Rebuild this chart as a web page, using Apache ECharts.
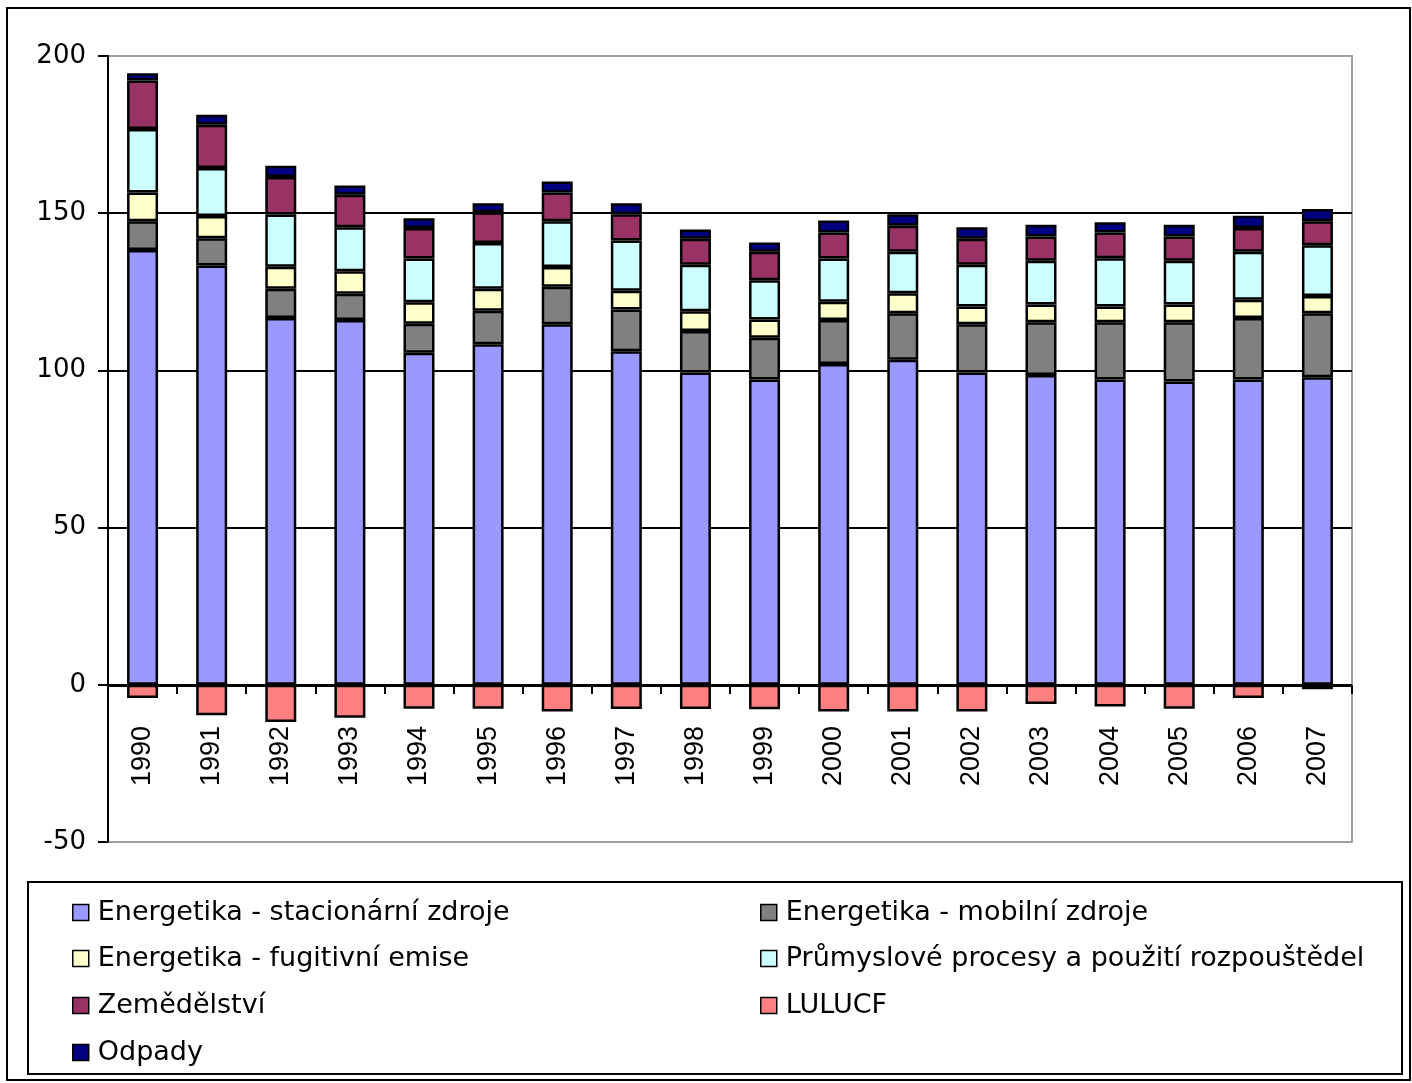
<!DOCTYPE html>
<html>
<head>
<meta charset="utf-8">
<script src="https://cdn.jsdelivr.net/npm/echarts@6/dist/echarts.min.js"></script>
<style>
html,body{margin:0;padding:0;background:#fff;}
#chart{width:1412px;height:1083px;}
</style>
</head>
<body>
<div id="chart"></div>
<script>
const years = ['1990','1991','1992','1993','1994','1995','1996','1997','1998','1999','2000','2001','2002','2003','2004','2005','2006','2007'];
const stacionarni = [138.3,133.4,116.7,116.0,105.6,108.3,114.7,106.1,99.3,97.1,102.0,103.4,99.3,98.5,97.1,96.5,97.1,97.8];
const mobilni = [9.1,8.6,9.3,8.4,9.2,10.7,11.9,13.3,13.2,13.3,14.0,14.8,15.4,16.8,18.2,18.8,19.6,20.4];
const fugitivni = [9.2,7.1,7.0,7.1,6.9,7.0,6.3,5.9,6.3,5.8,5.8,6.3,5.6,5.7,5.0,5.7,5.8,5.5];
const prumysl = [20.2,15.3,16.6,14.0,13.9,14.5,14.5,16.0,14.8,12.5,13.8,13.2,13.3,13.9,15.4,13.9,15.2,16.1];
const zemedelstvi = [15.4,13.7,11.9,10.4,9.7,9.8,9.2,8.4,8.3,9.0,8.3,8.3,8.3,7.7,8.2,7.7,7.6,7.6];
const lulucf = [-4.2,-9.7,-11.8,-10.5,-7.6,-7.6,-8.5,-7.7,-7.7,-7.8,-8.5,-8.5,-8.5,-6.1,-6.9,-7.6,-4.2,-1.4];
const odpady = [2.3,3.2,3.6,2.9,3.1,2.9,3.5,3.5,2.9,3.0,3.8,3.7,3.6,3.7,3.2,3.7,3.9,3.9];

const seriesNames = ['Energetika - stacionární zdroje','Energetika - mobilní zdroje','Energetika - fugitivní emise','Průmyslové procesy a použití rozpouštědel','Zemědělství','LULUCF','Odpady'];
const seriesData = [stacionarni, mobilni, fugitivni, prumysl, zemedelstvi, lulucf, odpady];
const colors = ['#9999FF','#808080','#FFFFCC','#CCFFFF','#993366','#FF8080','#000080'];

const legendPos = [
  {left:72, top:899},{left:760, top:899},
  {left:72, top:945},{left:760, top:945},
  {left:72, top:992},{left:760, top:992},
  {left:72, top:1039}
];

const chart = echarts.init(document.getElementById('chart'));
const option = {
  animation:false,
  backgroundColor:'#fff',
  textStyle:{fontFamily:'DejaVu Sans', color:'#000'},
  grid:{left:108, top:56, right:60, bottom:241, show:true, borderColor:'#a0a0a0', borderWidth:2, containLabel:false},
  legend: seriesNames.map((n,i)=>({
    data:[n], left:legendPos[i].left, top:legendPos[i].top,
    icon:'rect',
    itemWidth:16, itemHeight:16, padding:0, itemGap:0,
    selectedMode:false,
    itemStyle:{borderColor:'#000', borderWidth:1.5},
    textStyle:{fontFamily:'DejaVu Sans', fontSize:27, color:'#000', padding:[0,0,0,4]}
  })),
  xAxis:{
    type:'category', data:years,
    position:'bottom', offset:-156,
    axisLine:{onZero:false, lineStyle:{color:'#000', width:2}},
    axisTick:{show:true, length:8, lineStyle:{color:'#000', width:2}},
    axisLabel:{rotate:90, margin:40, fontFamily:'Liberation Sans', fontSize:27, color:'#000'},
    splitLine:{show:false}
  },
  yAxis:{
    type:'value', min:-50, max:200, interval:50,
    axisLine:{show:true, lineStyle:{color:'#000', width:2}},
    axisTick:{show:true, length:10, lineStyle:{color:'#000', width:2}},
    axisLabel:{margin:22, fontFamily:'DejaVu Sans', fontSize:26, color:'#000'},
    splitLine:{show:true, lineStyle:{color:['#a0a0a0','#000','#000','#000','#000','#a0a0a0'], width:2}}
  },
  graphic:[
    {type:'rect', shape:{x:7, y:8, width:1403, height:1072}, style:{fill:'none', stroke:'#000', lineWidth:2}, silent:true, z:-1},
    {type:'rect', shape:{x:28, y:882, width:1374, height:192}, style:{fill:'none', stroke:'#000', lineWidth:2}, silent:true, z:-1}
  ],
  series: seriesNames.map((n,i)=>({
    name:n, type:'bar', stack:'total', data:seriesData[i],
    barWidth:31,
    itemStyle:{color:colors[i], borderColor:'#000', borderWidth:2.5},
    emphasis:{disabled:true}
  }))
};
chart.setOption(option);
</script>
</body>
</html>
